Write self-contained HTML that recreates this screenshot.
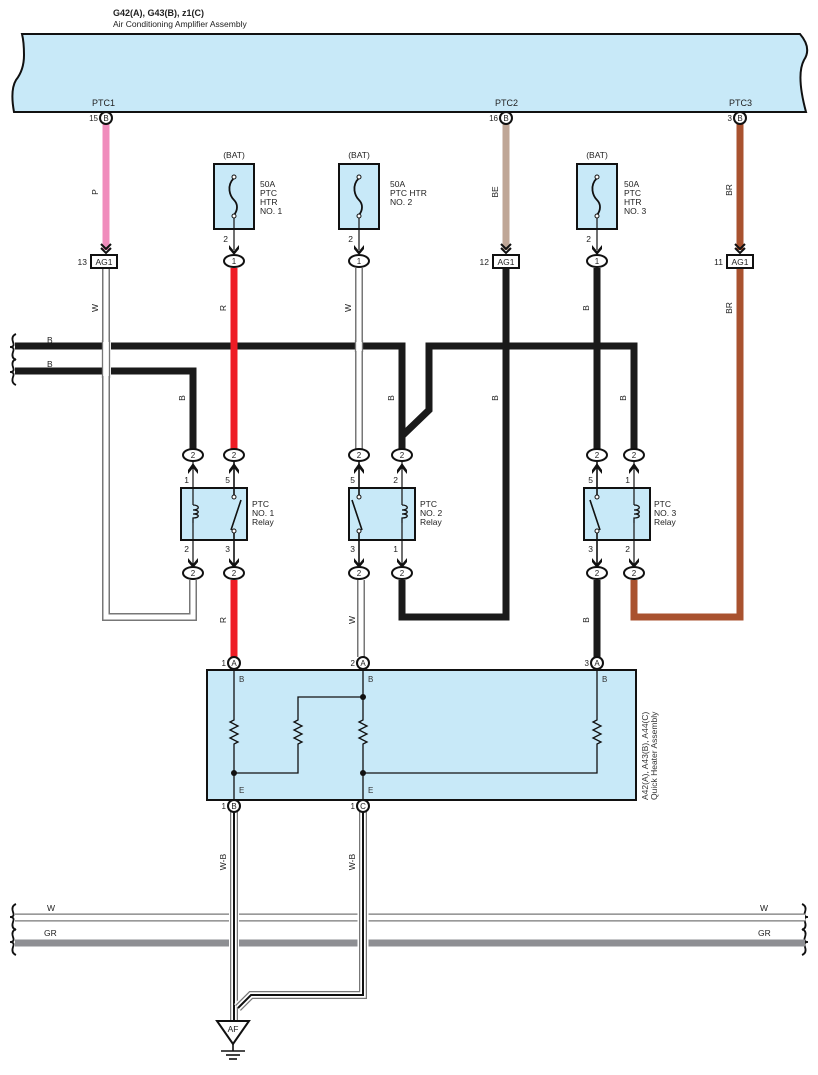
<!DOCTYPE html>
<html><head><meta charset="utf-8"><style>
html,body{margin:0;padding:0;background:#fff}
svg{display:block;font-family:"Liberation Sans",sans-serif}
</style></head><body>
<svg width="818" height="1075" viewBox="0 0 818 1075" xmlns="http://www.w3.org/2000/svg">
<defs>
<g id="dn"><path d="M-5,-9 L0,-4 L5,-9 M-5,-5 L0,0 L5,-5" fill="none" stroke="#111" stroke-width="2"/></g>
<g id="tri"><path d="M-5,-7 L0,-1 L5,-7 L5,-3 L0,3 L-5,-3Z" fill="#111"/></g>
<g id="c2u"><ellipse cx="0" cy="0" rx="10" ry="6" fill="#fff" stroke="#111" stroke-width="2"/><text x="0" y="3" text-anchor="middle" font-size="8" fill="#222">2</text></g>
<g id="coil"><path d="M0,505 c7,0 7,5 0,5 c7,0 7,4 0,4 c7,0 7,4 0,4 L0,523" fill="none" stroke="#111" stroke-width="1.3"/></g>
</defs>
<!-- header -->
<text x="113" y="16" font-size="9" font-weight="bold" fill="#222">G42(A), G43(B), z1(C)</text>
<text x="113" y="27" font-size="8.5" fill="#222">Air Conditioning Amplifier Assembly</text>
<path d="M22,34 L800,34 Q812,48 804,60 Q796,75 806,112 L14,112 Q10,90 16,80 Q24,70 24,55 Q24,42 22,34Z" fill="#c8e9f8" stroke="#111" stroke-width="2"/>
<text x="92" y="106" font-size="9" fill="#222">PTC1</text>
<text x="495" y="106" font-size="9" fill="#222">PTC2</text>
<text x="729" y="106" font-size="9" fill="#222">PTC3</text>

<g fill="none" stroke-linejoin="miter">
<line x1="106" y1="124" x2="106" y2="250" stroke="#f08cbc" stroke-width="7"/>
<line x1="506" y1="124" x2="506" y2="250" stroke="#bfa696" stroke-width="7"/>
<line x1="740" y1="124" x2="740" y2="250" stroke="#a9522f" stroke-width="7"/>
<path d="M106,268 L106,617 L193,617 L193,580" stroke="#777" stroke-width="8"/>
<path d="M106,268 L106,617 L193,617 L193,580" stroke="#fff" stroke-width="5"/>
<path d="M15,346 L402,346 L402,455" stroke="#1a1a1a" stroke-width="7"/>
<path d="M15,371 L193,371 L193,455" stroke="#1a1a1a" stroke-width="7"/>
<path d="M402,436 L429,410 L429,346 L634,346 L634,455" stroke="#1a1a1a" stroke-width="7"/>
<line x1="234" y1="268" x2="234" y2="455" stroke="#ee1c25" stroke-width="7"/>
<line x1="234" y1="580" x2="234" y2="657" stroke="#ee1c25" stroke-width="7"/>
<line x1="359" y1="268" x2="359" y2="455" stroke="#777" stroke-width="8"/>
<line x1="359" y1="268" x2="359" y2="455" stroke="#fff" stroke-width="5"/>
<line x1="361" y1="580" x2="361" y2="657" stroke="#777" stroke-width="8"/>
<line x1="361" y1="580" x2="361" y2="657" stroke="#fff" stroke-width="5"/>
<path d="M402,580 L402,617 L506,617 L506,268" stroke="#1a1a1a" stroke-width="7"/>
<line x1="597" y1="268" x2="597" y2="455" stroke="#1a1a1a" stroke-width="7"/>
<line x1="597" y1="580" x2="597" y2="657" stroke="#1a1a1a" stroke-width="7"/>
<path d="M634,580 L634,617 L740,617 L740,268" stroke="#a9522f" stroke-width="7"/>
</g>
<rect x="102" y="342" width="9" height="34" fill="#fff"/>
<line x1="102.5" y1="340" x2="102.5" y2="378" stroke="#777" stroke-width="1.3"/>
<line x1="109.5" y1="340" x2="109.5" y2="378" stroke="#777" stroke-width="1.3"/>
<rect x="355" y="342" width="8" height="9" fill="#fff"/>
<line x1="355.5" y1="340" x2="355.5" y2="352" stroke="#777" stroke-width="1.3"/>
<line x1="362.5" y1="340" x2="362.5" y2="352" stroke="#777" stroke-width="1.3"/>

<g font-size="8" fill="#222">
<circle cx="106" cy="118" r="6" fill="#fff" stroke="#111" stroke-width="2"/><text x="106" y="121" text-anchor="middle">B</text><text x="98" y="121" text-anchor="end">15</text>
<circle cx="506" cy="118" r="6" fill="#fff" stroke="#111" stroke-width="2"/><text x="506" y="121" text-anchor="middle">B</text><text x="498" y="121" text-anchor="end">16</text>
<circle cx="740" cy="118" r="6" fill="#fff" stroke="#111" stroke-width="2"/><text x="740" y="121" text-anchor="middle">B</text><text x="732" y="121" text-anchor="end">3</text>
</g>

<g font-size="8.5" fill="#222">
<use href="#dn" x="106" y="253"/>
<rect x="91" y="255" width="26" height="13" fill="#fff" stroke="#111" stroke-width="2"/><text x="104" y="265" text-anchor="middle">AG1</text><text x="87" y="265" text-anchor="end">13</text>
<use href="#dn" x="506" y="253"/>
<rect x="493" y="255" width="26" height="13" fill="#fff" stroke="#111" stroke-width="2"/><text x="506" y="265" text-anchor="middle">AG1</text><text x="489" y="265" text-anchor="end">12</text>
<use href="#dn" x="740" y="253"/>
<rect x="727" y="255" width="26" height="13" fill="#fff" stroke="#111" stroke-width="2"/><text x="740" y="265" text-anchor="middle">AG1</text><text x="723" y="265" text-anchor="end">11</text>
</g>

<g font-size="8.5" fill="#222">
<g id="fuse1">
<text x="234" y="158" text-anchor="middle">(BAT)</text>
<rect x="214" y="164" width="40" height="65" fill="#c8e9f8" stroke="#111" stroke-width="2"/>
<path d="M234,178 C226,186 230,196 234,200 C238,204 238,210 234,215" fill="none" stroke="#111" stroke-width="1.8"/>
<circle cx="234" cy="177" r="2" fill="#fff" stroke="#111"/><circle cx="234" cy="216" r="2" fill="#fff" stroke="#111"/>
<line x1="234" y1="218" x2="234" y2="250" stroke="#111" stroke-width="1.2"/>
<use href="#tri" x="234" y="252"/>
<text x="228" y="242" text-anchor="end">2</text>
<ellipse cx="234" cy="261" rx="10" ry="6" fill="#fff" stroke="#111" stroke-width="2"/><text x="234" y="264" text-anchor="middle" font-size="8">1</text>
</g>
<text x="260" y="187">50A</text><text x="260" y="196">PTC</text><text x="260" y="205">HTR</text><text x="260" y="214">NO. 1</text>
<use href="#fuse1" x="125"/>
<text x="390" y="187">50A</text><text x="390" y="196">PTC HTR</text><text x="390" y="205">NO. 2</text>
<use href="#fuse1" x="363"/>
<text x="624" y="187">50A</text><text x="624" y="196">PTC</text><text x="624" y="205">HTR</text><text x="624" y="214">NO. 3</text>
</g>

<g font-size="8.5" fill="#222">
<rect x="181" y="488" width="66" height="52" fill="#c8e9f8" stroke="#111" stroke-width="2"/>
<rect x="349" y="488" width="66" height="52" fill="#c8e9f8" stroke="#111" stroke-width="2"/>
<rect x="584" y="488" width="66" height="52" fill="#c8e9f8" stroke="#111" stroke-width="2"/>
<g stroke="#111" stroke-width="1.2" fill="none">
<path d="M193,462 L193,505 M193,523 L193,566"/>
<path d="M402,462 L402,505 M402,523 L402,566"/>
<path d="M634,462 L634,505 M634,523 L634,566"/>
<path d="M234,462 L234,496 M234,532 L234,566 M231,530 L241,500" stroke-width="1.6"/>
<path d="M359,462 L359,496 M359,532 L359,566 M362,530 L352,500" stroke-width="1.6"/>
<path d="M597,462 L597,496 M597,532 L597,566 M600,530 L590,500" stroke-width="1.6"/>
</g>
<use href="#coil" x="193"/><use href="#coil" x="402"/><use href="#coil" x="634"/>
<g fill="#fff" stroke="#111" stroke-width="1">
<circle cx="234" cy="497" r="2"/><circle cx="234" cy="531" r="2"/>
<circle cx="359" cy="497" r="2"/><circle cx="359" cy="531" r="2"/>
<circle cx="597" cy="497" r="2"/><circle cx="597" cy="531" r="2"/>
</g>
<g fill="#111">
<path d="M188,470 L193,463 L198,470 L198,474 L193,468 L188,474Z"/>
<path d="M229,470 L234,463 L239,470 L239,474 L234,468 L229,474Z"/>
<path d="M354,470 L359,463 L364,470 L364,474 L359,468 L354,474Z"/>
<path d="M397,470 L402,463 L407,470 L407,474 L402,468 L397,474Z"/>
<path d="M592,470 L597,463 L602,470 L602,474 L597,468 L592,474Z"/>
<path d="M629,470 L634,463 L639,470 L639,474 L634,468 L629,474Z"/>
</g>
<use href="#tri" x="193" y="565"/><use href="#tri" x="234" y="565"/>
<use href="#tri" x="359" y="565"/><use href="#tri" x="402" y="565"/>
<use href="#tri" x="597" y="565"/><use href="#tri" x="634" y="565"/>
<use href="#c2u" x="193" y="455"/><use href="#c2u" x="234" y="455"/>
<use href="#c2u" x="359" y="455"/><use href="#c2u" x="402" y="455"/>
<use href="#c2u" x="597" y="455"/><use href="#c2u" x="634" y="455"/>
<use href="#c2u" x="193" y="573"/><use href="#c2u" x="234" y="573"/>
<use href="#c2u" x="359" y="573"/><use href="#c2u" x="402" y="573"/>
<use href="#c2u" x="597" y="573"/><use href="#c2u" x="634" y="573"/>
<text x="189" y="483" text-anchor="end">1</text><text x="230" y="483" text-anchor="end">5</text>
<text x="189" y="552" text-anchor="end">2</text><text x="230" y="552" text-anchor="end">3</text>
<text x="355" y="483" text-anchor="end">5</text><text x="398" y="483" text-anchor="end">2</text>
<text x="355" y="552" text-anchor="end">3</text><text x="398" y="552" text-anchor="end">1</text>
<text x="593" y="483" text-anchor="end">5</text><text x="630" y="483" text-anchor="end">1</text>
<text x="593" y="552" text-anchor="end">3</text><text x="630" y="552" text-anchor="end">2</text>
<text x="252" y="507">PTC</text><text x="252" y="516">NO. 1</text><text x="252" y="525">Relay</text>
<text x="420" y="507">PTC</text><text x="420" y="516">NO. 2</text><text x="420" y="525">Relay</text>
<text x="654" y="507">PTC</text><text x="654" y="516">NO. 3</text><text x="654" y="525">Relay</text>
</g>

<g font-size="8.5" fill="#222">
<text transform="translate(98,192) rotate(-90)" text-anchor="middle">P</text>
<text transform="translate(498,192) rotate(-90)" text-anchor="middle">BE</text>
<text transform="translate(732,190) rotate(-90)" text-anchor="middle">BR</text>
<text transform="translate(732,308) rotate(-90)" text-anchor="middle">BR</text>
<text transform="translate(98,308) rotate(-90)" text-anchor="middle">W</text>
<text transform="translate(226,308) rotate(-90)" text-anchor="middle">R</text>
<text transform="translate(351,308) rotate(-90)" text-anchor="middle">W</text>
<text transform="translate(589,308) rotate(-90)" text-anchor="middle">B</text>
<text transform="translate(185,398) rotate(-90)" text-anchor="middle">B</text>
<text transform="translate(394,398) rotate(-90)" text-anchor="middle">B</text>
<text transform="translate(498,398) rotate(-90)" text-anchor="middle">B</text>
<text transform="translate(626,398) rotate(-90)" text-anchor="middle">B</text>
<text transform="translate(226,620) rotate(-90)" text-anchor="middle">R</text>
<text transform="translate(355,620) rotate(-90)" text-anchor="middle">W</text>
<text transform="translate(589,620) rotate(-90)" text-anchor="middle">B</text>
<text transform="translate(226,862) rotate(-90)" text-anchor="middle">W-B</text>
<text transform="translate(355,862) rotate(-90)" text-anchor="middle">W-B</text>
<text x="47" y="343">B</text><text x="47" y="367">B</text>
</g>
<g fill="none" stroke="#111" stroke-width="1.8">
<path d="M16,334 q-5,2 -3,8 q2,5 -3,5 q5,0 3,5 q-2,6 3,8"/>
<path d="M16,359 q-5,2 -3,8 q2,5 -3,5 q5,0 3,5 q-2,6 3,8"/>
<path d="M16,904 q-5,2 -3,8 q2,5 -3,5 q5,0 3,5 q-2,6 3,8"/>
<path d="M16,929 q-5,2 -3,8 q2,5 -3,5 q5,0 3,5 q-2,6 3,8"/>
<path d="M802,904 q5,2 3,8 q-2,5 3,5 q-5,0 -3,5 q2,6 -3,8"/>
<path d="M802,929 q5,2 3,8 q-2,5 3,5 q-5,0 -3,5 q2,6 -3,8"/>
</g>

<rect x="207" y="670" width="429" height="130" fill="#c8e9f8" stroke="#111" stroke-width="2"/>
<g stroke="#111" stroke-width="1.3" fill="none">
<path d="M234,670 L234,720 l-4,2 8,4 -8,4 8,4 -8,4 8,4 -4,2 L234,806"/>
<path d="M363,670 L363,720 l-4,2 8,4 -8,4 8,4 -8,4 8,4 -4,2 L363,806"/>
<path d="M597,670 L597,720 l-4,2 8,4 -8,4 8,4 -8,4 8,4 -4,2 L597,773 L363,773"/>
<path d="M363,697 L298,697 L298,720 l-4,2 8,4 -8,4 8,4 -8,4 8,4 -4,2 L298,773 L234,773"/>
</g>
<g fill="#111"><circle cx="363" cy="697" r="3"/><circle cx="234" cy="773" r="3"/><circle cx="363" cy="773" r="3"/></g>
<g font-size="8" fill="#333">
<text x="239" y="682">B</text><text x="368" y="682">B</text><text x="602" y="682">B</text>
<text x="239" y="793">E</text><text x="368" y="793">E</text>
<text transform="translate(648,800) rotate(-90)" font-size="8.5">A42(A), A43(B), A44(C)</text>
<text transform="translate(657,800) rotate(-90)" font-size="8.5">Quick Heater Assembly</text>
</g>
<line x1="15" y1="917.5" x2="805" y2="917.5" stroke="#777" stroke-width="8"/>
<line x1="15" y1="917.5" x2="805" y2="917.5" stroke="#fff" stroke-width="5.5"/>
<line x1="15" y1="943" x2="805" y2="943" stroke="#8e8f93" stroke-width="7"/>
<g font-size="8.5" fill="#222"><text x="47" y="911">W</text><text x="44" y="936">GR</text><text x="760" y="911">W</text><text x="758" y="936">GR</text></g>
<g fill="none">
<rect x="229" y="810" width="10" height="210" fill="#fff" stroke="none"/>
<path d="M234,812 L234,1020" stroke="#777" stroke-width="8"/>
<path d="M234,812 L234,1020" stroke="#fff" stroke-width="5.5"/>
<path d="M234,812 L234,1020" stroke="#111" stroke-width="2"/>
<path d="M363,812 L363,995 L251,995 L238,1008" stroke="#fff" stroke-width="11"/>
<path d="M363,812 L363,995 L251,995 L238,1008" stroke="#777" stroke-width="8"/>
<path d="M363,812 L363,995 L251,995 L238,1008" stroke="#fff" stroke-width="5.5"/>
<path d="M363,812 L363,995 L251,995 L238,1008" stroke="#111" stroke-width="2"/>
</g>
<g font-size="8" fill="#222">
<circle cx="234" cy="663" r="6" fill="#fff" stroke="#111" stroke-width="2"/><text x="234" y="666" text-anchor="middle">A</text><text x="226" y="666" text-anchor="end">1</text>
<circle cx="363" cy="663" r="6" fill="#fff" stroke="#111" stroke-width="2"/><text x="363" y="666" text-anchor="middle">A</text><text x="355" y="666" text-anchor="end">2</text>
<circle cx="597" cy="663" r="6" fill="#fff" stroke="#111" stroke-width="2"/><text x="597" y="666" text-anchor="middle">A</text><text x="589" y="666" text-anchor="end">3</text>
<circle cx="234" cy="806" r="6" fill="#fff" stroke="#111" stroke-width="2"/><text x="234" y="809" text-anchor="middle">B</text><text x="226" y="809" text-anchor="end">1</text>
<circle cx="363" cy="806" r="6" fill="#fff" stroke="#111" stroke-width="2"/><text x="363" y="809" text-anchor="middle">C</text><text x="355" y="809" text-anchor="end">1</text>
</g>
<path d="M217,1021 L249,1021 L233,1044Z" fill="#fff" stroke="#111" stroke-width="2"/>
<text x="233" y="1032" font-size="8.5" text-anchor="middle" fill="#222">AF</text>
<g stroke="#111" stroke-width="1.6"><line x1="233" y1="1044" x2="233" y2="1051"/><line x1="221" y1="1051" x2="245" y2="1051"/><line x1="226" y1="1055" x2="240" y2="1055"/><line x1="229" y1="1059" x2="237" y2="1059"/></g>
</svg>
</body></html>
